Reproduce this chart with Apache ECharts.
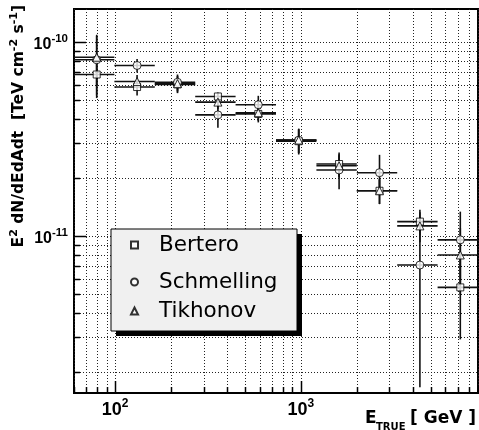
<!DOCTYPE html>
<html><head><meta charset="utf-8">
<script src="https://cdn.jsdelivr.net/npm/echarts@6/dist/echarts.min.js"></script>
<style>html,body{margin:0;padding:0;background:#fff}#c{width:479px;height:430px}</style>
</head><body><div id="c"></div>
<script>
// ---- data (energy in GeV, flux in TeV cm^-2 s^-1) ----
const binCenter = [79.5, 131.2, 216.6, 357.5, 590.0, 973.8, 1607, 2653, 4378, 7226];
const binLow    = [60, 99.0, 163.4, 269.8, 445.2, 734.8, 1213, 2002, 3304, 5453];
const binHigh   = [99.0, 163.4, 269.8, 445.2, 734.8, 1213, 2002, 3304, 5453, 9000];

const berteroVal    = [6.80e-11, 5.86e-11, 6.05e-11, 5.24e-11, 4.26e-11, 3.08e-11, 2.35e-11, 1.71e-11, 1.186e-11, 5.43e-12];
const berteroErr    = [1.66e-11, 0.56e-11, 0.60e-11, 0.25e-11, 0.41e-11, 0.45e-11, 0.34e-11, 0.25e-11, 0.18e-11, 0.25e-11];
const schmellingVal = [8.10e-11, 7.57e-11, 6.20e-11, 4.21e-11, 4.75e-11, 3.12e-11, 2.19e-11, 2.12e-11, 7.08e-12, 9.55e-12];
const schmellingErr = [2.80e-11, 0.60e-11, 0.60e-11, 0.60e-11, 0.53e-11, 0.45e-11, 0.45e-11, 0.50e-11, 0.542e-11, 0.38e-11];
const tikhonovVal   = [8.35e-11, 6.26e-11, 6.10e-11, 4.90e-11, 4.32e-11, 3.12e-11, 2.30e-11, 1.71e-11, 1.127e-11, 7.98e-12];
const tikhonovErr   = [2.40e-11, 0.50e-11, 0.60e-11, 0.40e-11, 0.40e-11, 0.45e-11, 0.30e-11, 0.25e-11, 0.20e-11, 0.30e-11];

const seriesNames = ['Bertero', 'Schmelling', 'Tikhonov'];

// axis ticks / grid values
const xTickValues = [60,70,80,90,100,200,300,400,500,600,700,800,900,1000,2000,3000,4000,5000,6000,7000,8000,9000];
const yTickValues = [2e-12,3e-12,4e-12,5e-12,6e-12,7e-12,8e-12,9e-12,1e-11,2e-11,3e-11,4e-11,5e-11,6e-11,7e-11,8e-11,9e-11,1e-10];
const xRange = [60, 9000];
const yRange = [1.55e-12, 1.48e-10];

// ---- build ----
const FONT = 'DejaVu Sans';
function isPow10(v){ const l = Math.log10(v); return Math.abs(l - Math.round(l)) < 1e-6; }
function isMajor(v){ return isPow10(v); }

function errData(vals, errs){
  return binCenter.map((x,i)=>[x, vals[i], binLow[i], binHigh[i], vals[i]-errs[i], vals[i]+errs[i]]);
}
function errSeries(vals, errs){
  return {
    type:'custom', z:2, clip:true, silent:true,
    data: errData(vals, errs),
    renderItem(params, api){
      const y = api.value(1);
      const lo = api.coord([api.value(2), y]);
      const hi = api.coord([api.value(3), y]);
      const a = api.coord([api.value(0), api.value(4)]);
      const b = api.coord([api.value(0), api.value(5)]);
      const st = {stroke:'#111', lineWidth:1.6};
      return {type:'group', children:[
        {type:'line', shape:{x1:lo[0], y1:lo[1], x2:hi[0], y2:hi[1]}, style:st},
        {type:'line', shape:{x1:a[0], y1:a[1], x2:b[0], y2:b[1]}, style:st}
      ]};
    }
  };
}
function markerSeries(name, vals, symbol, size){
  return {
    name, type:'scatter', z:3, symbol, symbolSize:size,
    itemStyle:{color:'#fff', borderColor:'#000', borderWidth:1},
    data: binCenter.map((x,i)=>[x, vals[i]])
  };
}

const gridXSeries = {
  type:'custom', z:1, silent:true, clip:false,
  data: xTickValues.map(v=>[v, yRange[0]]),
  renderItem(params, api){
    const cs = params.coordSys;
    const p = api.coord([api.value(0), api.value(1)]);
    const x = Math.round(p[0]) + 0.5;
    const len = isMajor(api.value(0)) ? 12 : 6;
    const bottom = cs.y + cs.height;
    return {type:'group', children:[
      {type:'line', shape:{x1:x, y1:cs.y, x2:x, y2:bottom}, style:{stroke:'#222', lineWidth:1, lineDash:[1,2]}},
      {type:'line', shape:{x1:x, y1:bottom, x2:x, y2:bottom-len}, style:{stroke:'#000', lineWidth:1.5}}
    ]};
  }
};
const gridYSeries = {
  type:'custom', z:1, silent:true, clip:false,
  data: yTickValues.map(v=>[xRange[0], v]),
  renderItem(params, api){
    const cs = params.coordSys;
    const p = api.coord([api.value(0), api.value(1)]);
    const y = Math.round(p[1]) + 0.5;
    const len = isMajor(api.value(1)) ? 12 : 6;
    return {type:'group', children:[
      {type:'line', shape:{x1:cs.x, y1:y, x2:cs.x+cs.width, y2:y}, style:{stroke:'#222', lineWidth:1, lineDash:[1,2]}},
      {type:'line', shape:{x1:cs.x, y1:y, x2:cs.x+len, y2:y}, style:{stroke:'#000', lineWidth:1.5}}
    ]};
  }
};

function powLabel(v){
  if (!isPow10(v)) return '';
  return '{base|10}{sup|' + Math.round(Math.log10(v)) + '}';
}
const xLabelRich = {
  base:{fontFamily:'Liberation Sans Narrow, Liberation Sans', fontWeight:'bold', fontSize:18, lineHeight:20, color:'#000', padding:[4,0,0,0]},
  sup:{fontFamily:'Liberation Sans Narrow, Liberation Sans', fontWeight:'bold', fontSize:12, lineHeight:12, color:'#000', verticalAlign:'top'}
};
const yLabelRich = {
  base:{fontFamily:'Liberation Sans', fontWeight:'bold', fontSize:16, lineHeight:18, color:'#000', padding:[6,0,0,0]},
  sup:{fontFamily:'Liberation Sans', fontWeight:'bold', fontSize:11.5, lineHeight:12, color:'#000', verticalAlign:'top'}
};

const legendCommon = {
  orient:'vertical', padding:0, itemWidth:7, itemHeight:7, itemGap:0, z:10,
  selectedMode:false, left:130,
  textStyle:{fontFamily:FONT, fontSize:21.5, color:'#000', lineHeight:26, padding:[0,0,0,16]}
};

const option = {
  animation:false,
  backgroundColor:'#fff',
  grid:{left:74, top:9, width:404, height:384, show:true, borderColor:'#000', borderWidth:2, backgroundColor:'transparent'},
  xAxis:{type:'log', logBase:10, min:xRange[0], max:xRange[1],
    axisLine:{show:true, lineStyle:{color:'#000', width:2}},
    axisTick:{show:false}, splitLine:{show:false}, minorTick:{show:false},
    axisLabel:{formatter:powLabel, rich:xLabelRich, margin:5, showMinLabel:false, showMaxLabel:false, color:'#000'}
  },
  yAxis:{type:'log', logBase:10, min:yRange[0], max:yRange[1],
    axisLine:{show:true, lineStyle:{color:'#000', width:2}},
    axisTick:{show:false}, splitLine:{show:false}, minorTick:{show:false},
    axisLabel:{formatter:powLabel, rich:yLabelRich, margin:6, showMinLabel:false, showMaxLabel:false, color:'#000'}
  },
  legend:[
    Object.assign({}, legendCommon, {data:[seriesNames[0]], top:245-13}),
    Object.assign({}, legendCommon, {data:[seriesNames[1]], top:282-13}),
    Object.assign({}, legendCommon, {data:[seriesNames[2]], top:311-13})
  ],
  graphic:[
    {type:'rect', z:5, shape:{x:116, y:234, width:186, height:102}, style:{fill:'#000'}},
    {type:'rect', z:6, shape:{x:111, y:229, width:186, height:102}, style:{fill:'#f0f0f0', stroke:'#000', lineWidth:1}},
    {type:'text', z:6, x:19, y:5, rotation:Math.PI/2,
      style:{text:'{b|E}{s|2}{b| dN/dEdAdt  [TeV cm}{s|-2}{b| s}{s|-1}{b|]}', align:'right', verticalAlign:'middle',
        rich:{b:{fontFamily:FONT, fontWeight:'bold', fontSize:15.5, lineHeight:20, fill:'#000'},
              s:{fontFamily:FONT, fontWeight:'bold', fontSize:11, lineHeight:11, fill:'#000', verticalAlign:'top'}}}},
    {type:'text', z:6, x:365, y:419, style:{text:'E', fontFamily:FONT, fontWeight:'bold', fontSize:17, fill:'#000', verticalAlign:'middle'}},
    {type:'text', z:6, x:376, y:427, style:{text:'TRUE', fontFamily:FONT, fontWeight:'bold', fontSize:10, fill:'#000', verticalAlign:'middle'}},
    {type:'text', z:6, x:476, y:419, style:{text:'[ GeV ]', fontFamily:FONT, fontWeight:'bold', fontSize:17, fill:'#000', align:'right', verticalAlign:'middle'}}
  ],
  series:[
    gridXSeries, gridYSeries,
    errSeries(berteroVal, berteroErr),
    errSeries(schmellingVal, schmellingErr),
    errSeries(tikhonovVal, tikhonovErr),
    markerSeries(seriesNames[0], berteroVal, 'rect', 7),
    markerSeries(seriesNames[1], schmellingVal, 'circle', 8),
    markerSeries(seriesNames[2], tikhonovVal, 'triangle', 8)
  ]
};
const chart = echarts.init(document.getElementById('c'), null, {renderer:'canvas'});
chart.setOption(option);
</script>
</body></html>
